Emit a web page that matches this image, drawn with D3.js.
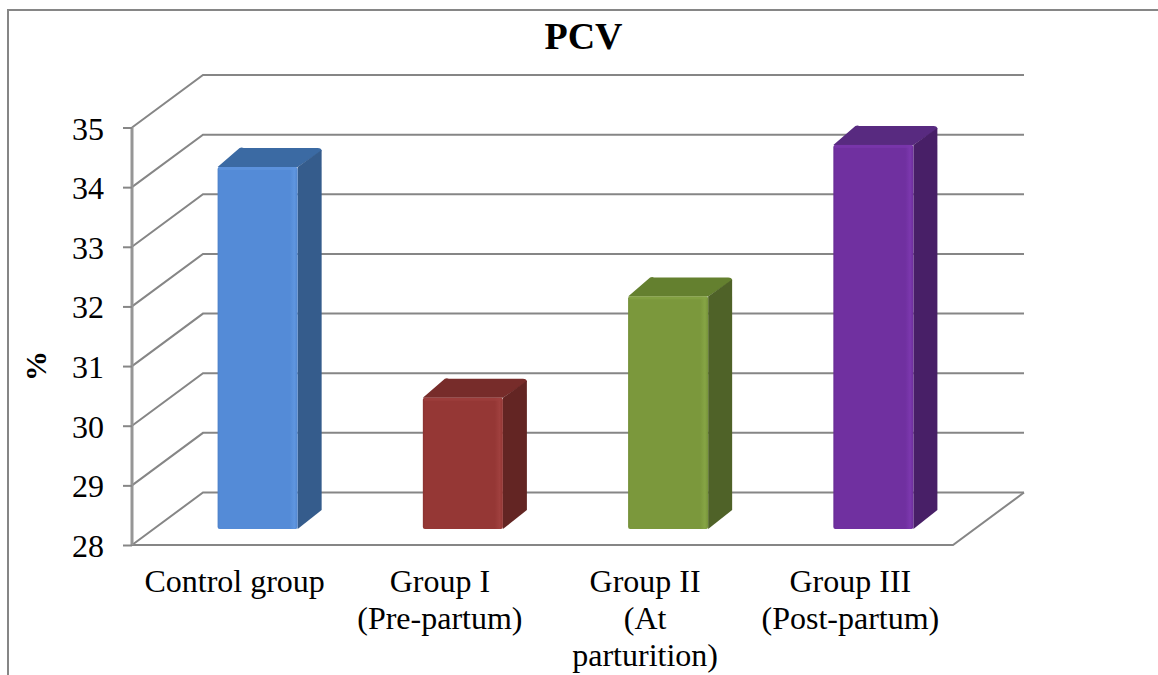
<!DOCTYPE html>
<html><head><meta charset="utf-8">
<script src="https://cdnjs.cloudflare.com/ajax/libs/d3/7.8.5/d3.min.js"></script>
<style>html,body{margin:0;background:#fff}svg{display:block}text{font-family:"Liberation Serif",serif;fill:#000}</style>
</head><body><svg id="c" width="1158" height="675"></svg>
<script>
const categories = ["Control group", "Group I (Pre-partum)", "Group II (At parturition)", "Group III (Post-partum)"];
const labelLines = [["Control group"], ["Group I", "(Pre-partum)"], ["Group II", "(At", "parturition)"], ["Group III", "(Post-partum)"]];
const values = [34.07, 30.2, 31.9, 34.44];
const frontColors = ["#548bd7", "#953735", "#7b983c", "#7030a0"];
const edgeColors = ["#5f96e0", "#a0403e", "#86a545", "#7c38ae"];
const sideColors = ["#355c8c", "#632523", "#4f6228", "#481f67"];
const topColors = ["#3b6aa3", "#772c2a", "#64802f", "#582a80"];
const yTicks = [28, 29, 30, 31, 32, 33, 34, 35];
const titleText = "PCV";
const yLabel = "%";

const svg = d3.select("#c");
const x = d3.scaleBand().domain(categories).range([132, 953]).paddingInner(0.61).paddingOuter(0.305);
const y = d3.scaleLinear().domain([28, 35]).range([545, 127.5]);
const wall = {dx: 71, dy: -52.5};
const bar = {ox: 23, oy: -16, dx: 24, dy: -19};
const grey = "#868686";

// frame
svg.append("path").attr("d", "M8 675V10H1158").attr("fill", "none").attr("stroke", grey).attr("stroke-width", 2);

// grid: side wall, back wall and floor
const g = svg.append("g").attr("fill", "none").attr("stroke", grey).attr("stroke-width", 2);
yTicks.forEach(t => {
  const yy = y(t);
  g.append("path").attr("d", `M${x.range()[0]} ${yy}L${x.range()[0] + wall.dx} ${yy + wall.dy}H${x.range()[1] + wall.dx}`);
});
g.append("path").attr("d", `M${x.range()[1] + wall.dx} ${y(28) + wall.dy}L${x.range()[1]} ${y(28)}H${x.range()[0]}`);

// axis
const axis = d3.axisLeft(y).tickValues(yTicks).tickSize(9).tickPadding(19).tickFormat(d3.format("d"));
const ax = svg.append("g").attr("transform", `translate(${x.range()[0]},0)`).call(axis);
ax.selectAll("line").attr("stroke", grey).attr("stroke-width", 2);
ax.select(".domain").attr("d", `M0 ${y(35)}V${y(28)}`).attr("stroke", "#969696").attr("stroke-width", 3);
ax.selectAll("text").attr("font-size", 32).attr("font-family", "Liberation Serif").attr("fill", "#000").attr("dy", "0.36em");

// bars
const defs = svg.append("defs");
categories.forEach((c, i) => {
  const gr = defs.append("linearGradient").attr("id", "f" + i);
  gr.append("stop").attr("offset", 0).attr("stop-color", d3.color(frontColors[i]).darker(0.2));
  gr.append("stop").attr("offset", 0.03).attr("stop-color", frontColors[i]);
  gr.append("stop").attr("offset", 0.9).attr("stop-color", frontColors[i]);
  gr.append("stop").attr("offset", 0.96).attr("stop-color", edgeColors[i]);
  gr.append("stop").attr("offset", 1).attr("stop-color", d3.color(frontColors[i]).darker(0.1));
});
const bars = svg.append("g").selectAll("g").data(categories).join("g");
bars.each(function(c, i) {
  const s = d3.select(this);
  const l = x(c) + bar.ox, r = l + x.bandwidth();
  const t = y(values[i]) + bar.oy, b = y(28) + bar.oy;
  s.append("path").attr("d", `M${l} ${t}L${l + bar.dx - 2} ${t + bar.dy}Q${l + bar.dx} ${t + bar.dy - 1} ${l + bar.dx + 2} ${t + bar.dy}H${r + bar.dx - 4}Q${r + bar.dx} ${t + bar.dy} ${r + bar.dx} ${t + bar.dy + 3}L${r} ${t}Z`).attr("fill", topColors[i]);
  s.append("path").attr("d", `M${r} ${t}L${r + bar.dx} ${t + bar.dy + 2}V${b + bar.dy}L${r} ${b}Z`).attr("fill", sideColors[i]);
  s.append("rect").attr("x", l).attr("y", t).attr("width", x.bandwidth()).attr("height", b - t).attr("rx", 2).attr("fill", `url(#f${i})`);
  s.append("rect").attr("x", l + 1).attr("y", t).attr("width", x.bandwidth() - 2).attr("height", 3).attr("fill", edgeColors[i]).attr("opacity", 0.7);
});

// category labels
categories.forEach((c, i) => {
  const cx = x(c) + x.bandwidth() / 2;
  labelLines[i].forEach((ln, j) => {
    svg.append("text").attr("x", cx).attr("y", 592 + j * 37).attr("text-anchor", "middle").attr("font-size", 32).text(ln);
  });
});

// titles
svg.append("text").attr("x", 583.5).attr("y", 49).attr("text-anchor", "middle").attr("font-size", 38).attr("font-weight", "bold").text(titleText);
svg.append("text").attr("transform", "translate(46,366) rotate(-90)").attr("text-anchor", "middle").attr("font-size", 30).attr("font-weight", "bold").text(yLabel);
</script></body></html>
